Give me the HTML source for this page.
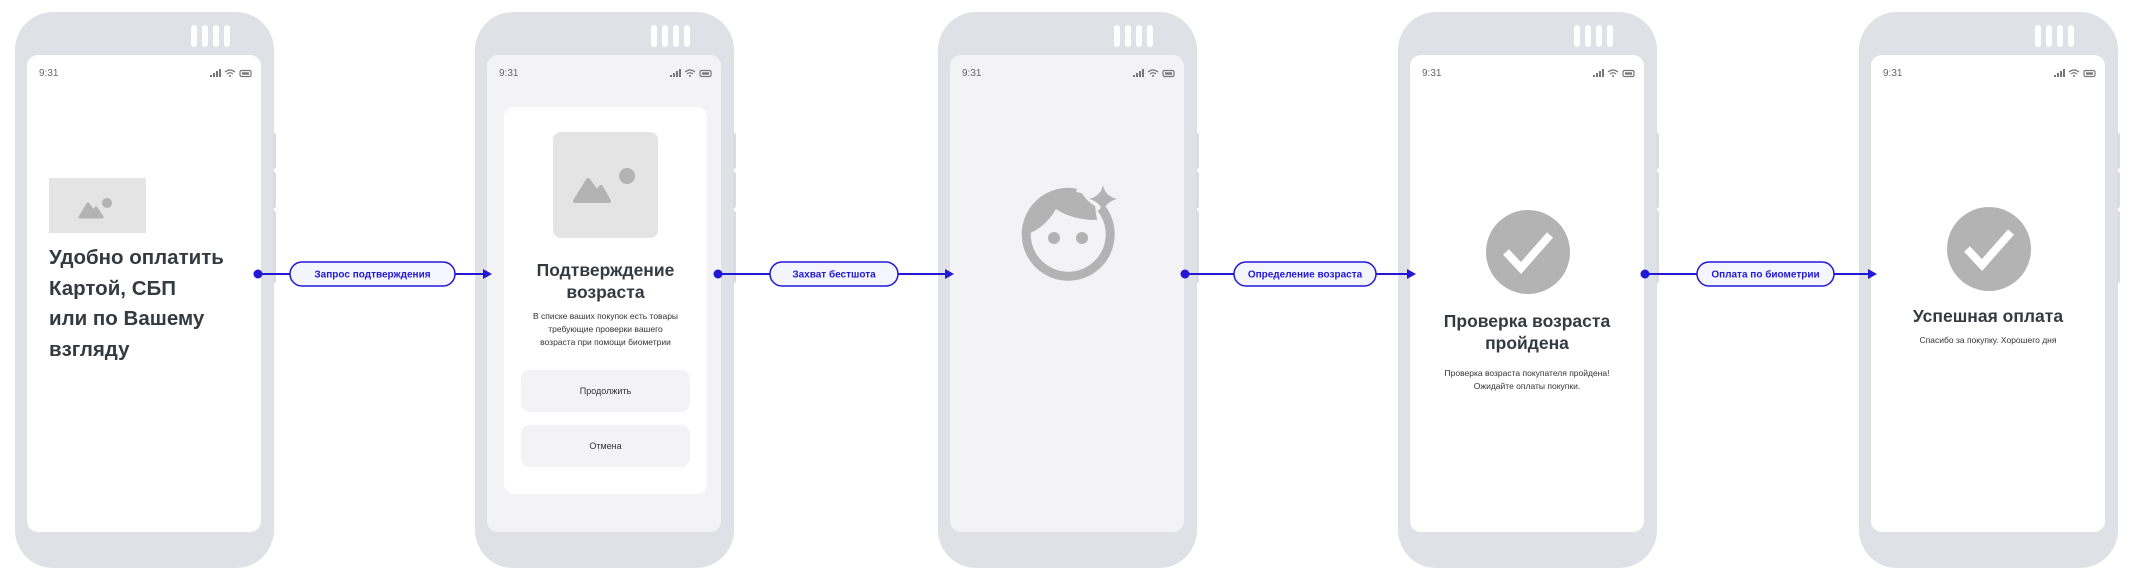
<!DOCTYPE html>
<html><head><meta charset="utf-8"><style>
body{margin:0;width:2136px;height:579px;background:#fff;position:relative;overflow:hidden;font-family:"Liberation Sans",sans-serif;}
.phone{position:absolute;top:12px;width:259px;height:556px;background:#dfe1e6;border-radius:38px;}
.bar{position:absolute;top:13px;width:6px;height:22px;background:#fff;border-radius:3px;}
.btn{position:absolute;left:258px;width:3px;background:#dadce1;border-radius:0 2px 2px 0;}
.screen{position:absolute;left:12px;top:43px;width:234px;height:477px;background:#fff;border-radius:11px;overflow:hidden;}
.time{position:absolute;left:12px;top:13px;font-size:10px;color:#666;}
.st{position:absolute;left:182px;top:13px;}
.c{position:absolute;left:0;width:234px;text-align:center;color:#333a40;}
</style></head><body>

<div class="phone" style="left:15px">
<div class="bar" style="left:176px"></div><div class="bar" style="left:187px"></div><div class="bar" style="left:198px"></div><div class="bar" style="left:209px"></div>
<div class="btn" style="top:121px;height:36px"></div><div class="btn" style="top:160px;height:36px"></div><div class="btn" style="top:199px;height:72px"></div>
<div class="screen">
<div class="time">9:31</div>
<svg class="st" width="44" height="10"><g fill="#777"><rect x="1" y="7" width="2" height="2"/><rect x="4" y="5" width="2" height="4"/><rect x="7" y="3" width="2" height="6"/><rect x="10" y="1" width="2" height="8"/></g><path d="M16 4 Q21 0 26 4 M18 6 Q21 3.5 24 6" stroke="#777" stroke-width="1.2" fill="none"/><circle cx="21" cy="8" r="1" fill="#777"/><rect x="31" y="2.5" width="11" height="6" rx="1.5" fill="none" stroke="#777" stroke-width="1.2"/><rect x="33" y="4.3" width="7" height="2.4" fill="#777"/></svg>
<div style="position:absolute;left:22px;top:123px;width:97px;height:55px;background:#e4e4e4"></div>
<svg style="position:absolute;left:22px;top:123px" width="97" height="55"><path d="M31 39 L39 26 L44 33 L47 30 L53 39 Z" fill="#b3b3b3" stroke="#b3b3b3" stroke-width="3" stroke-linejoin="round"/><circle cx="58" cy="25" r="5" fill="#b3b3b3"/></svg>
<div style="position:absolute;left:22px;top:188px;font-size:20.5px;font-weight:bold;line-height:30.5px;color:#333a40">Удобно оплатить<br>Картой, СБП<br>или по Вашему<br>взгляду</div>
</div></div>

<div class="phone" style="left:475px">
<div class="bar" style="left:176px"></div><div class="bar" style="left:187px"></div><div class="bar" style="left:198px"></div><div class="bar" style="left:209px"></div>
<div class="btn" style="top:121px;height:36px"></div><div class="btn" style="top:160px;height:36px"></div><div class="btn" style="top:199px;height:72px"></div>
<div class="screen" style="background:#f3f3f5">
<div class="time">9:31</div>
<svg class="st" width="44" height="10"><g fill="#777"><rect x="1" y="7" width="2" height="2"/><rect x="4" y="5" width="2" height="4"/><rect x="7" y="3" width="2" height="6"/><rect x="10" y="1" width="2" height="8"/></g><path d="M16 4 Q21 0 26 4 M18 6 Q21 3.5 24 6" stroke="#777" stroke-width="1.2" fill="none"/><circle cx="21" cy="8" r="1" fill="#777"/><rect x="31" y="2.5" width="11" height="6" rx="1.5" fill="none" stroke="#777" stroke-width="1.2"/><rect x="33" y="4.3" width="7" height="2.4" fill="#777"/></svg>
<div style="position:absolute;left:17px;top:52px;width:203px;height:387px;background:#fff;border-radius:10px">
<div style="position:absolute;left:49px;top:25px;width:105px;height:106px;background:#e4e4e4;border-radius:8px"></div>
<svg style="position:absolute;left:49px;top:25px" width="105" height="106"><path d="M22 69 L35 48 L44 60 L48 55 L56 69 Z" fill="#b3b3b3" stroke="#b3b3b3" stroke-width="4" stroke-linejoin="round"/><circle cx="74" cy="44" r="8" fill="#b3b3b3"/></svg>
<div style="position:absolute;left:0;width:203px;top:152px;text-align:center;font-size:17.5px;font-weight:bold;line-height:22px;color:#333a40">Подтверждение<br>возраста</div>
<div style="position:absolute;left:0;width:203px;top:203px;text-align:center;font-size:8.5px;line-height:13px;color:#333">В списке ваших покупок есть товары<br>требующие проверки вашего<br>возраста при помощи биометрии</div>
<div style="position:absolute;left:17px;top:263px;width:169px;height:42px;background:#f3f3f5;border-radius:9px;font-size:9px;line-height:42px;text-align:center;color:#333">Продолжить</div>
<div style="position:absolute;left:17px;top:318px;width:169px;height:42px;background:#f3f3f5;border-radius:9px;font-size:9px;line-height:42px;text-align:center;color:#333">Отмена</div>
</div>
</div></div>

<div class="phone" style="left:938px">
<div class="bar" style="left:176px"></div><div class="bar" style="left:187px"></div><div class="bar" style="left:198px"></div><div class="bar" style="left:209px"></div>
<div class="btn" style="top:121px;height:36px"></div><div class="btn" style="top:160px;height:36px"></div><div class="btn" style="top:199px;height:72px"></div>
<div class="screen" style="background:#f3f3f5">
<div class="time">9:31</div>
<svg class="st" width="44" height="10"><g fill="#777"><rect x="1" y="7" width="2" height="2"/><rect x="4" y="5" width="2" height="4"/><rect x="7" y="3" width="2" height="6"/><rect x="10" y="1" width="2" height="8"/></g><path d="M16 4 Q21 0 26 4 M18 6 Q21 3.5 24 6" stroke="#777" stroke-width="1.2" fill="none"/><circle cx="21" cy="8" r="1" fill="#777"/><rect x="31" y="2.5" width="11" height="6" rx="1.5" fill="none" stroke="#777" stroke-width="1.2"/><rect x="33" y="4.3" width="7" height="2.4" fill="#777"/></svg>
<svg style="position:absolute;left:58px;top:119px" width="120" height="120" viewBox="-60 -60 120 120">
<defs><clipPath id="cc"><circle r="43"/></clipPath></defs>
<path d="M33 -26 A42 42 0 1 1 8 -41" fill="none" stroke="#b3b3b3" stroke-width="9"/>
<path d="M-46 2 Q-24 -4 -12 -25 Q4 -14 29 -14 L 27 -28 Q18 -33 12 -44 L -46 -60 Z" fill="#b3b3b3" clip-path="url(#cc)"/>
<circle cx="-14" cy="4" r="6" fill="#b3b3b3"/><circle cx="14" cy="4" r="6" fill="#b3b3b3"/>
<path d="M35 -49 Q37 -38 49 -35 Q37 -32 35 -21 Q33 -32 21 -35 Q33 -38 35 -49 Z" fill="#b3b3b3"/>
</svg>
</div></div>

<div class="phone" style="left:1398px">
<div class="bar" style="left:176px"></div><div class="bar" style="left:187px"></div><div class="bar" style="left:198px"></div><div class="bar" style="left:209px"></div>
<div class="btn" style="top:121px;height:36px"></div><div class="btn" style="top:160px;height:36px"></div><div class="btn" style="top:199px;height:72px"></div>
<div class="screen">
<div class="time">9:31</div>
<svg class="st" width="44" height="10"><g fill="#777"><rect x="1" y="7" width="2" height="2"/><rect x="4" y="5" width="2" height="4"/><rect x="7" y="3" width="2" height="6"/><rect x="10" y="1" width="2" height="8"/></g><path d="M16 4 Q21 0 26 4 M18 6 Q21 3.5 24 6" stroke="#777" stroke-width="1.2" fill="none"/><circle cx="21" cy="8" r="1" fill="#777"/><rect x="31" y="2.5" width="11" height="6" rx="1.5" fill="none" stroke="#777" stroke-width="1.2"/><rect x="33" y="4.3" width="7" height="2.4" fill="#777"/></svg>
<svg style="position:absolute;left:75px;top:154px" width="86" height="86" viewBox="-43 -43 86 86"><circle r="42" fill="#b3b3b3"/><path d="M-22 0 L-7 16 L22 -17" fill="none" stroke="#fff" stroke-width="8"/></svg>
<div class="c" style="top:255px;font-size:17.5px;font-weight:bold;line-height:22px">Проверка возраста<br>пройдена</div>
<div class="c" style="top:312px;font-size:8.5px;line-height:13px;color:#333">Проверка возраста покупателя пройдена!<br>Ожидайте оплаты покупки.</div>
</div></div>

<div class="phone" style="left:1859px">
<div class="bar" style="left:176px"></div><div class="bar" style="left:187px"></div><div class="bar" style="left:198px"></div><div class="bar" style="left:209px"></div>
<div class="btn" style="top:121px;height:36px"></div><div class="btn" style="top:160px;height:36px"></div><div class="btn" style="top:199px;height:72px"></div>
<div class="screen">
<div class="time">9:31</div>
<svg class="st" width="44" height="10"><g fill="#777"><rect x="1" y="7" width="2" height="2"/><rect x="4" y="5" width="2" height="4"/><rect x="7" y="3" width="2" height="6"/><rect x="10" y="1" width="2" height="8"/></g><path d="M16 4 Q21 0 26 4 M18 6 Q21 3.5 24 6" stroke="#777" stroke-width="1.2" fill="none"/><circle cx="21" cy="8" r="1" fill="#777"/><rect x="31" y="2.5" width="11" height="6" rx="1.5" fill="none" stroke="#777" stroke-width="1.2"/><rect x="33" y="4.3" width="7" height="2.4" fill="#777"/></svg>
<svg style="position:absolute;left:75px;top:151px" width="86" height="86" viewBox="-43 -43 86 86"><circle r="42" fill="#b3b3b3"/><path d="M-22 0 L-7 16 L22 -17" fill="none" stroke="#fff" stroke-width="8"/></svg>
<div class="c" style="top:250px;font-size:17.5px;font-weight:bold;line-height:22px">Успешная оплата</div>
<div class="c" style="top:279px;font-size:8.5px;line-height:13px;color:#333">Спасибо за покупку. Хорошего дня</div>
</div></div>

<svg style="position:absolute;left:0;top:0" width="2136" height="579">
<g stroke="#2218d6" stroke-width="2" fill="#f5f5ff">
<line x1="258" y1="274" x2="485" y2="274"/>
<line x1="718" y1="274" x2="947" y2="274"/>
<line x1="1185" y1="274" x2="1409" y2="274"/>
<line x1="1645" y1="274" x2="1870" y2="274"/>
<rect x="290" y="262" width="165" height="24" rx="12" stroke-width="1.5"/>
<rect x="770" y="262" width="128" height="24" rx="12" stroke-width="1.5"/>
<rect x="1234" y="262" width="142" height="24" rx="12" stroke-width="1.5"/>
<rect x="1697" y="262" width="137" height="24" rx="12" stroke-width="1.5"/>
</g>
<g fill="#2218d6">
<circle cx="258" cy="274" r="4.5"/><circle cx="718" cy="274" r="4.5"/><circle cx="1185" cy="274" r="4.5"/><circle cx="1645" cy="274" r="4.5"/>
<path d="M483 269 L492 274 L483 279 Z"/><path d="M945 269 L954 274 L945 279 Z"/><path d="M1407 269 L1416 274 L1407 279 Z"/><path d="M1868 269 L1877 274 L1868 279 Z"/>
<g font-family="Liberation Sans, sans-serif" font-size="10" font-weight="bold" text-anchor="middle">
<text x="372.5" y="277.5">Запрос подтверждения</text>
<text x="834" y="277.5">Захват бестшота</text>
<text x="1305" y="277.5">Определение возраста</text>
<text x="1765.5" y="277.5">Оплата по биометрии</text>
</g></g>
</svg>
</body></html>
